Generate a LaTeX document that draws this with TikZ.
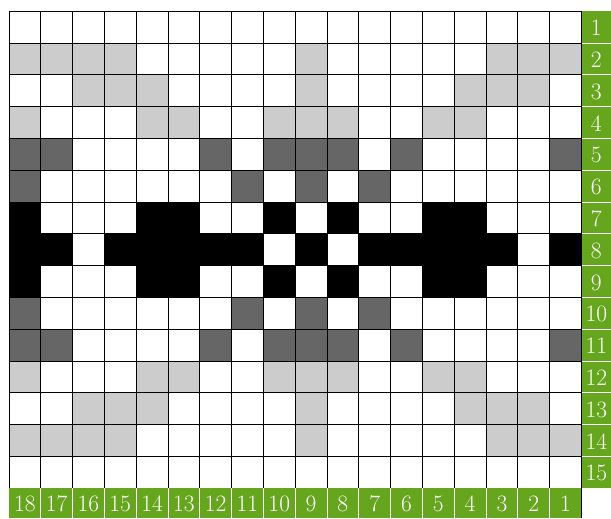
\documentclass[tikz,border=0pt]{standalone}
\usepackage{tikz}

\definecolor{lightcell}{gray}{0.8}
\definecolor{darkcell}{gray}{0.4}
\definecolor{labelgreen}{RGB}{102,166,30}

\tikzset{
  numlabel/.style={text=white,inner sep=0pt,font=\fontsize{21}{24}\selectfont},
  sepline/.style={white,line width=0.6pt}
}

\begin{document}
\begin{tikzpicture}[x=1cm,y=1cm]
\useasboundingbox (-0.28,-0.94) rectangle (18.93,15.35);

% column c counted from the left, row r from the top
\foreach \r/\cols in {2/{1,2,3,4,10,16,17,18},3/{3,4,5,10,15,16,17},4/{1,5,6,9,10,11,14,15},
                      12/{1,5,6,9,10,11,14,15},13/{3,4,5,10,15,16,17},14/{1,2,3,4,10,16,17,18}}
  \foreach \c in \cols
    \fill[lightcell] (\c-1,15-\r) rectangle ++(1,1);

\foreach \r/\cols in {5/{1,2,7,9,10,11,13,18},6/{1,8,10,12},10/{1,8,10,12},11/{1,2,7,9,10,11,13,18}}
  \foreach \c in \cols
    \fill[darkcell] (\c-1,15-\r) rectangle ++(1,1);

\foreach \r/\cols in {7/{1,5,6,9,11,14,15},8/{1,2,4,5,6,7,8,10,12,13,14,15,16,18},9/{1,5,6,9,11,14,15}}
  \foreach \c in \cols
    \fill[black] (\c-1,15-\r) rectangle ++(1,1);

\draw[line width=0.6pt] (0,0) grid (18,15);

\fill[labelgreen] (18,0) rectangle (18.93,15);
\fill[labelgreen] (0,-0.94) rectangle (18,0);
\foreach \y in {1,...,14}
  \draw[sepline] (18,\y) -- (18.93,\y);
\foreach \x in {1,...,17}
  \draw[sepline] (\x,0) -- (\x,-0.94);
\draw[line width=0.6pt] (18,15) -- (18,-0.94);

\foreach \r in {1,...,15}
  \node[numlabel] (row\r) at (18.47,14.47-\r+1) {\r};
\foreach \c [evaluate=\c as \n using int(19-\c)] in {1,...,18}
  \node[numlabel] (col\n) at (\c-0.5,-0.5) {\n};
\end{tikzpicture}
\end{document}
